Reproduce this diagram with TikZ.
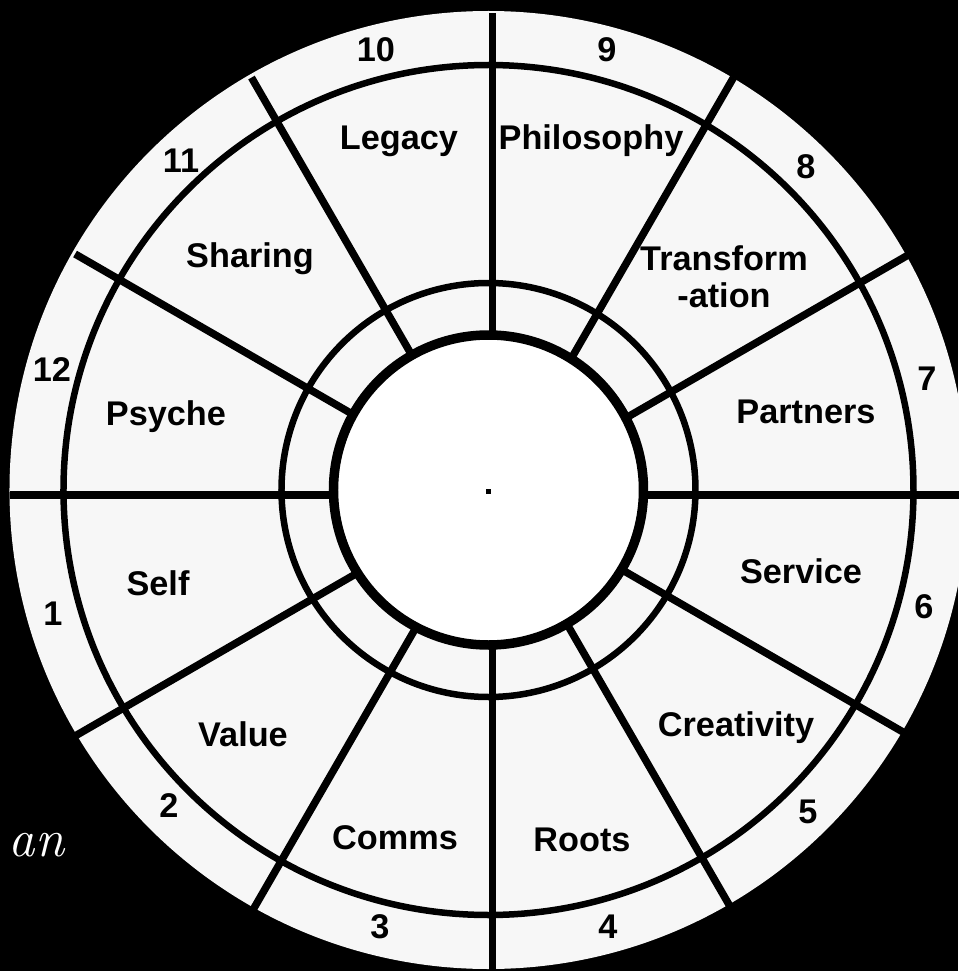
\documentclass[tikz,border=0pt]{standalone}
\usepackage{fontspec}
\setsansfont{Liberation Sans}
\begin{document}
\begin{tikzpicture}[x=0.02cm, y=0.02cm, line width=0.13cm,
  house/.style={font=\sffamily\bfseries\fontsize{19.5}{21}\selectfont, inner sep=0pt},
  num/.style={font=\sffamily\bfseries\fontsize{19.5}{21}\selectfont, inner sep=0pt}]
% background
\fill[black] (-488.5,-481) rectangle (469.5,490);
\useasboundingbox (-488.5,-481) rectangle (469.5,490);
\fill[black!3] (0,0) circle (479);
\draw (0,0) circle (425);
\draw (0,0) circle (207);
% spokes
\begin{scope}[shift={(4,-5)}, line width=0.15cm]
\draw (0:150) -- (0:482);
\draw (30:150) -- (30:482);
\draw (60:150) -- (60:482);
\draw (90:150) -- (90:482);
\draw (120:150) -- (120:482);
\draw (150:150) -- (150:482);
\draw (180:150) -- (180:482);
\draw (210:150) -- (210:482);
\draw (240:150) -- (240:482);
\draw (270:150) -- (270:482);
\draw (300:150) -- (300:482);
\draw (330:150) -- (330:482);
\end{scope}
\draw[fill=white, line width=0.19cm] (0,0) circle (155);
\fill (-2,-3.5) rectangle (3,1.5);
% houses
\node[house] (legacy) at (-89.5,349) {Legacy};
\node[house] (philo) at (102.5,349) {Philosophy};
\node[house] (sharing) at (-238.5,231) {Sharing};
\node[house, align=center] (transf) at (235.5,213.5) {Transform\\-ation};
\node[house] (psyche) at (-322.5,73) {Psyche};
\node[house] (partners) at (317.5,78) {Partners};
\node[house] (self) at (-330.5,-93) {Self};
\node[house] (service) at (312.5,-81) {Service};
\node[house] (value) at (-245.5,-244) {Value};
\node[house] (creat) at (247.5,-238) {Creativity};
\node[house] (comms) at (-93.5,-348) {Comms};
\node[house] (roots) at (93.5,-350) {Roots};
% numbers
\node[num] (n10) at (-112.5,440) {10};
\node[num] (n9) at (118.5,440) {9};
\node[num] (n11) at (-307.5,329) {11};
\node[num] (n8) at (317.5,323) {8};
\node[num] (n12) at (-436.5,120) {12};
\node[num] (n7) at (438.5,111) {7};
\node[num] (n1) at (-435.5,-124) {1};
\node[num] (n6) at (435.5,-117) {6};
\node[num] (n2) at (-319.5,-316) {2};
\node[num] (n5) at (319.5,-322) {5};
\node[num] (n3) at (-108.5,-437) {3};
\node[num] (n4) at (119.5,-437) {4};
% signature
\node[white, font=\fontsize{30}{30}\selectfont\itshape, inner sep=0pt] (sig) at (-452,-355) {an};
\end{tikzpicture}
\end{document}
